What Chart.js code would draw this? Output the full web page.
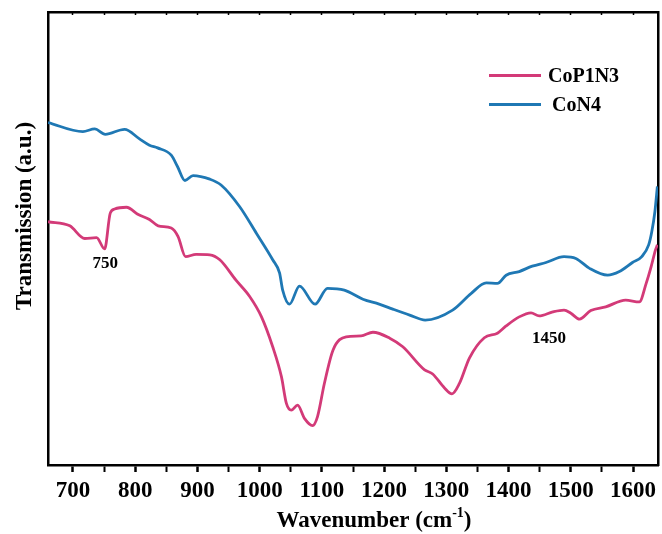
<!DOCTYPE html>
<html>
<head>
<meta charset="utf-8">
<script src="https://cdn.jsdelivr.net/npm/chart.js@4.4.1/dist/chart.umd.min.js"></script>
<style>
  html, body { margin: 0; padding: 0; background: #fff; }
  #wrap { width: 662px; height: 534px; position: relative; }
</style>
</head>
<body>
<div id="wrap"><canvas id="ftirChart"></canvas></div>
<script>
// FTIR spectra
const seriesNames = ["CoP1N3", "CoN4"];
const seriesColors = ["#d33a78", "#1f78b4"];

const coP1N3Wn = [660, 695, 719, 738, 751, 760, 767, 786, 805, 823, 837, 858, 869, 881, 898, 920, 936, 962, 984, 1003,
  1021, 1035, 1043, 1051, 1061, 1072, 1085, 1093, 1104, 1118, 1139, 1163, 1182, 1209, 1230, 1265, 1278, 1297, 1309, 1321,
  1337, 1361, 1382, 1396, 1417, 1436, 1449, 1471, 1489, 1500, 1514, 1532, 1556, 1588, 1610, 1621, 1629, 1636, 1639];
const coP1N3T = [53.7, 52.8, 50.0, 50.2, 47.7, 55.6, 56.5, 56.9, 55.3, 54.2, 52.8, 52.3, 50.4, 46.0, 46.5, 46.4, 45.3, 40.8, 37.2, 32.7,
  26.1, 19.5, 13.6, 12.1, 13.2, 10.3, 8.7, 10.7, 18.0, 25.4, 28.3, 28.5, 29.3, 28.0, 26.1, 21.0, 20.1, 17.0, 15.7, 18.0,
  23.6, 28.1, 29.1, 30.7, 32.7, 33.6, 32.9, 33.8, 34.2, 33.5, 32.2, 34.1, 34.9, 36.4, 36.0, 40.1, 43.8, 47.5, 48.6];

const coN4Wn = [660, 716, 735, 752, 783, 807, 823, 836, 858, 868, 880, 893, 920, 938, 968, 995, 1021, 1032, 1037, 1048,
  1064, 1089, 1109, 1136, 1166, 1192, 1214, 1241, 1266, 1310, 1340, 1364, 1382, 1396, 1417, 1438, 1460, 1489, 1508, 1530,
  1559, 1578, 1599, 1614, 1625, 1630, 1635, 1639];
const coN4T = [75.6, 73.6, 74.2, 73.0, 74.1, 72.0, 70.6, 70.0, 68.4, 65.9, 62.8, 63.9, 63.1, 61.8, 57.0, 51.1, 45.3, 42.4, 38.6, 35.5,
  39.5, 35.5, 39.0, 38.6, 36.6, 35.5, 34.4, 33.1, 32.0, 34.2, 37.9, 40.2, 40.1, 41.9, 42.7, 43.9, 44.7, 46.0, 45.6, 43.4,
  41.9, 42.7, 44.7, 46.0, 48.6, 51.5, 55.9, 61.5];

// peak labels
const peakLabels = ["750", "1450"];
const peakX = [752, 1465];
const peakY = [44.4, 28.0];

const xTitle = "Wavenumber (cm";
const xTitleSup = "-1";
const yTitle = "Transmission (a.u.)";

const FONT = "'Liberation Serif', 'Times New Roman', serif";

function toPoints(xs, ys) {
  return xs.map((x, i) => ({ x: x, y: ys[i] }));
}

// legend, peak labels and axis titles drawn on top of the plot
const overlayPlugin = {
  id: "overlay",
  afterDraw(chart) {
    const ctx = chart.ctx;
    const xs = chart.scales.x;
    const ys = chart.scales.y;
    ctx.save();
    ctx.fillStyle = "#000";

    // legend
    const legY = [75.5, 104.5];
    const legTextX = [548, 552];
    chart.data.datasets.forEach((ds, i) => {
      ctx.strokeStyle = ds.borderColor;
      ctx.lineWidth = 3;
      ctx.beginPath();
      ctx.moveTo(489, legY[i]);
      ctx.lineTo(541, legY[i]);
      ctx.stroke();
      ctx.font = "bold 20px " + FONT;
      ctx.textAlign = "left";
      ctx.textBaseline = "middle";
      ctx.fillText(ds.label, legTextX[i], legY[i] + 1);
    });

    // peak labels
    ctx.font = "bold 17px " + FONT;
    ctx.textAlign = "center";
    ctx.textBaseline = "middle";
    peakLabels.forEach((t, i) => {
      ctx.fillText(t, xs.getPixelForValue(peakX[i]), ys.getPixelForValue(peakY[i]));
    });

    // x title with superscript
    const main = "bold 23px " + FONT;
    const small = "bold 14px " + FONT;
    ctx.font = main;
    const w1 = ctx.measureText(xTitle).width;
    const w3 = ctx.measureText(")").width;
    ctx.font = small;
    const w2 = ctx.measureText(xTitleSup).width;
    let tx = 374 - (w1 + w2 + w3) / 2;
    const ty = 521;
    ctx.textAlign = "left";
    ctx.textBaseline = "middle";
    ctx.font = main;
    ctx.fillText(xTitle, tx, ty);
    tx += w1;
    ctx.font = small;
    ctx.fillText(xTitleSup, tx, ty - 8);
    tx += w2;
    ctx.font = main;
    ctx.fillText(")", tx, ty);

    // y title
    ctx.translate(25, 216);
    ctx.rotate(-Math.PI / 2);
    ctx.textAlign = "center";
    ctx.font = main;
    ctx.fillText(yTitle, 0, 0);
    ctx.restore();
  }
};

const ctx = document.getElementById("ftirChart").getContext("2d");

new Chart(ctx, {
  type: "line",
  data: {
    datasets: [
      {
        label: seriesNames[0],
        data: toPoints(coP1N3Wn, coP1N3T),
        borderColor: seriesColors[0],
        borderWidth: 2.8,
        pointRadius: 0,
        cubicInterpolationMode: "monotone",
        fill: false
      },
      {
        label: seriesNames[1],
        data: toPoints(coN4Wn, coN4T),
        borderColor: seriesColors[1],
        borderWidth: 2.8,
        pointRadius: 0,
        cubicInterpolationMode: "monotone",
        fill: false
      }
    ]
  },
  options: {
    responsive: true,
    maintainAspectRatio: false,
    animation: false,
    layout: { padding: 0 },
    plugins: {
      legend: { display: false },
      tooltip: { enabled: false }
    },
    scales: {
      x: {
        type: "linear",
        position: "bottom",
        min: 660,
        max: 1640,
        afterFit: s => { s.height = 69; },
        ticks: {
          stepSize: 50,
          includeBounds: false,
          autoSkip: false,
          maxRotation: 0,
          padding: 5,
          color: "#000",
          font: { family: FONT, size: 23, weight: "bold" },
          callback: v => (v % 100 === 0 ? v : "")
        },
        grid: {
          drawOnChartArea: false,
          tickLength: 7,
          tickColor: "#000",
          tickWidth: c => (c.tick && c.tick.value % 100 === 0 ? 2.5 : 2)
        },
        border: { color: "#000", width: 2.5 }
      },
      x2: {
        type: "linear",
        position: "top",
        min: 660,
        max: 1640,
        afterFit: s => { s.height = 12; },
        ticks: { display: false, stepSize: 50, includeBounds: false },
        grid: { drawOnChartArea: false, tickLength: -3, tickColor: "#000", tickWidth: 1.5 },
        border: { color: "#000", width: 2.5 }
      },
      y: {
        position: "left",
        min: 0,
        max: 100,
        afterFit: s => { s.width = 48; },
        ticks: { display: false },
        grid: { display: false },
        border: { color: "#000", width: 2.5 }
      },
      y2: {
        position: "right",
        min: 0,
        max: 100,
        afterFit: s => { s.width = 4; },
        ticks: { display: false },
        grid: { display: false },
        border: { color: "#000", width: 2.5 }
      }
    }
  },
  plugins: [overlayPlugin]
});
</script>
</body>
</html>
